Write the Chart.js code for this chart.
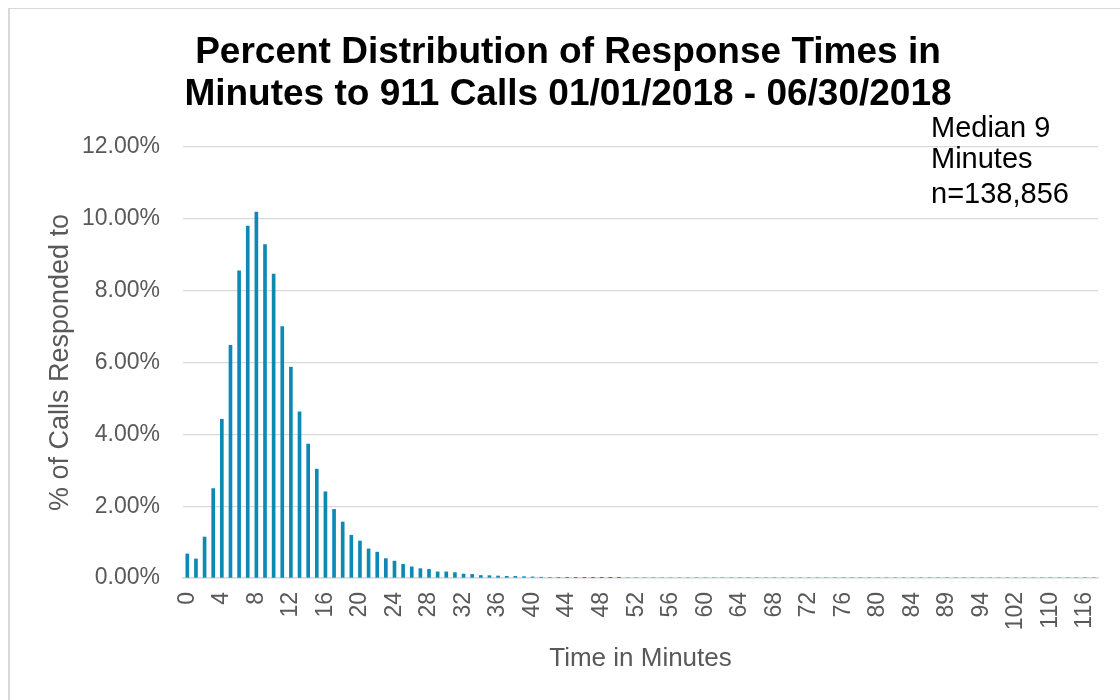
<!DOCTYPE html>
<html>
<head>
<meta charset="utf-8">
<title>Response Time Distribution</title>
<script src="https://cdn.jsdelivr.net/npm/chart.js@4/dist/chart.umd.min.js"></script>
<style>
  html, body { margin: 0; padding: 0; background: #fff; overflow: hidden; }
  #frame { position: absolute; left: 8px; top: 8px; width: 1130px; height: 710px;
           border-left: 2px solid #d9d9d9; border-top: 1px solid #d9d9d9; box-sizing: border-box; }
  #wrap { position: absolute; left: 0; top: 0; width: 1120px; height: 700px; }
</style>
</head>
<body>
<div id="frame"></div>
<div id="wrap"><canvas id="chart" width="1120" height="700"></canvas></div>
<script>
// Response time buckets (minutes)
const minutes = [
  '0','1','2','3','4','5','6','7','8','9','10','11','12','13','14','15','16','17','18','19',
  '20','21','22','23','24','25','26','27','28','29','30','31','32','33','34','35','36','37','38','39',
  '40','41','42','43','44','45','46','47','48','49','50','51','52','53','54','55','56','57','58','59',
  '60','61','62','63','64','65','66','67','68','69','70','71','72','73','74','75','76','77','78','79',
  '80','81','82','83','84','85','86','87','89','90','91','93','94','96','98','99','102','104','105','107',
  '110','112','113','115','116','120'
];

// Share of calls answered within each bucket (%)
const percentOfCalls = [
  0.67, 0.53, 1.14, 2.49, 4.42, 6.48, 8.55, 9.80, 10.19, 9.28,
  8.46, 7.00, 5.87, 4.63, 3.73, 3.03, 2.40, 1.91, 1.56, 1.19,
  1.03, 0.81, 0.72, 0.54, 0.47, 0.38, 0.31, 0.26, 0.24, 0.17,
  0.17, 0.15, 0.11, 0.10, 0.07, 0.065, 0.056, 0.047, 0.045, 0.037,
  0.030, 0.022, 0.018, 0.015, 0.013, 0.012, 0.010, 0.009, 0.008, 0.006,
  0.007, 0, 0, 0, 0, 0, 0, 0, 0, 0,
  0, 0, 0, 0, 0, 0, 0, 0, 0, 0,
  0, 0, 0, 0, 0, 0, 0, 0, 0, 0,
  0, 0, 0, 0, 0, 0, 0, 0, 0, 0,
  0, 0, 0, 0, 0, 0, 0, 0, 0, 0,
  0, 0, 0, 0, 0, 0
];

const yTicks = [0, 2, 4, 6, 8, 10, 12];

const titleLines = ['Percent Distribution of Response Times in', 'Minutes to 911 Calls 01/01/2018 - 06/30/2018'];
const noteLines = ['Median 9', 'Minutes', 'n=138,856'];

const FONT = '"Liberation Sans", Arial, Helvetica, sans-serif';
const GREY_TEXT = '#595959';
const GRID = '#d9d9d9';

// Chart heading and the median / sample-size note
const textPlugin = {
  id: 'headings',
  afterDraw(chart) {
    const ctx = chart.ctx;
    ctx.save();
    ctx.fillStyle = '#000';
    ctx.textAlign = 'center';
    ctx.textBaseline = 'alphabetic';
    ctx.font = 'bold 37px ' + FONT;
    ctx.fillText(titleLines[0], 568, 63);
    ctx.fillText(titleLines[1], 568, 105);

    ctx.textAlign = 'left';
    ctx.font = '29px ' + FONT;
    const base = [137, 168, 203];
    noteLines.forEach((t, i) => ctx.fillText(t, 931, base[i]));
    ctx.restore();
  }
};

new Chart(document.getElementById('chart'), {
  type: 'bar',
  data: {
    labels: minutes,
    datasets: [{
      data: percentOfCalls,
      backgroundColor: '#0e89b4',
      borderWidth: 0,
      barThickness: 3
    }]
  },
  options: {
    responsive: false,
    animation: false,
    layout: { padding: { top: 147, right: 22, bottom: 0, left: 0 } },
    plugins: {
      legend: { display: false },
      tooltip: { enabled: false },
      title: { display: false }
    },
    scales: {
      x: {
        grid: { display: false, drawTicks: false },
        border: { display: true, color: GRID, width: 1.5 },
        ticks: {
          autoSkip: false,
          maxRotation: 90,
          minRotation: 90,
          padding: 14,
          color: GREY_TEXT,
          font: { family: FONT, size: 23 },
          callback: (v, i) => (i % 4 === 0 ? minutes[i] : '')
        },
        title: {
          display: true,
          text: 'Time in Minutes',
          color: GREY_TEXT,
          font: { family: FONT, size: 26 },
          padding: { top: 0, bottom: 26 }
        },
        afterFit(scale) {
          scale.height = 122;
          scale.paddingLeft = 0;
          scale.paddingRight = 0;
        }
      },
      y: {
        min: 0,
        max: 12,
        afterBuildTicks(scale) { scale.ticks = yTicks.map(v => ({ value: v })); },
        grid: { color: GRID, lineWidth: 1.3, drawTicks: false },
        border: { display: false },
        ticks: {
          padding: 23,
          color: GREY_TEXT,
          font: { family: FONT, size: 23 },
          callback: v => v.toFixed(2) + '%'
        },
        title: {
          display: true,
          text: '% of Calls Responded to',
          color: GREY_TEXT,
          font: { family: FONT, size: 27 },
          padding: { top: 44, bottom: 0 }
        },
        afterFit(scale) { scale.width = 183; }
      }
    }
  },
  plugins: [textPlugin]
});
</script>
</body>
</html>
